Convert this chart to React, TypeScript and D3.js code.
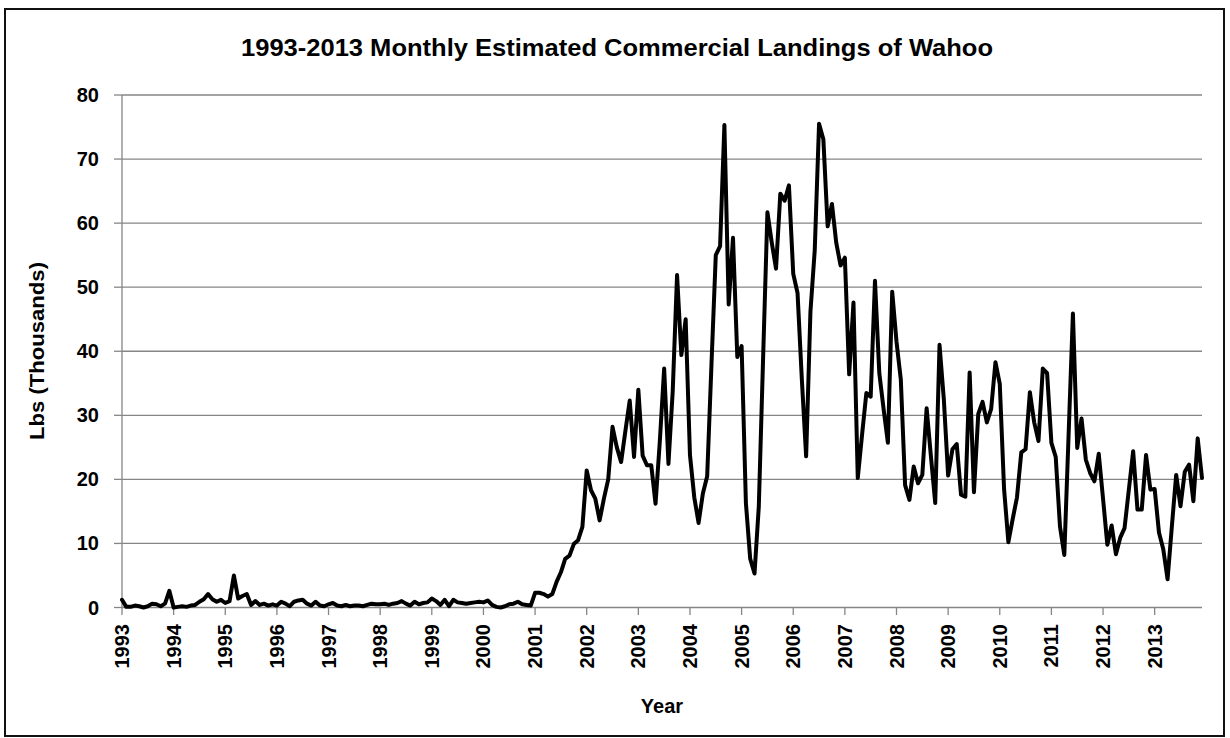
import React from 'react';
import * as d3 from 'd3';

const years = ['1993','1994','1995','1996','1997','1998','1999','2000','2001','2002','2003','2004','2005','2006','2007','2008','2009','2010','2011','2012','2013'];
const yTicks = [0, 10, 20, 30, 40, 50, 60, 70, 80];

const v1993 = [1.2, 0.1, 0.1, 0.3, 0.2, 0.0, 0.2, 0.6, 0.5, 0.2, 0.6, 2.6];
const v1994 = [0.0, 0.1, 0.2, 0.1, 0.3, 0.4, 0.9, 1.3, 2.1, 1.3, 0.9, 1.2];
const v1995 = [0.7, 1.0, 5.0, 1.4, 1.8, 2.1, 0.4, 1.0, 0.4, 0.6, 0.3, 0.5];
const v1996 = [0.3, 0.9, 0.6, 0.2, 0.9, 1.1, 1.2, 0.6, 0.3, 0.9, 0.3, 0.2];
const v1997 = [0.5, 0.7, 0.3, 0.2, 0.4, 0.2, 0.3, 0.3, 0.2, 0.4, 0.6, 0.5];
const v1998 = [0.5, 0.6, 0.4, 0.6, 0.7, 1.0, 0.6, 0.3, 0.9, 0.5, 0.7, 0.8];
const v1999 = [1.4, 1.0, 0.4, 1.2, 0.2, 1.2, 0.8, 0.7, 0.6, 0.7, 0.8, 0.9];
const v2000 = [0.8, 1.1, 0.4, 0.1, 0.0, 0.2, 0.5, 0.6, 0.9, 0.5, 0.4, 0.3];
const v2001 = [2.3, 2.3, 2.1, 1.7, 2.1, 4.0, 5.5, 7.6, 8.1, 9.9, 10.5, 12.6];
const v2002 = [21.4, 18.3, 17.0, 13.6, 17.0, 20.0, 28.2, 25.0, 22.7, 27.6, 32.3, 23.5];
const v2003 = [34.0, 23.7, 22.2, 22.2, 16.2, 26.0, 37.3, 22.4, 33.9, 51.9, 39.4, 45.0];
const v2004 = [23.8, 17.2, 13.2, 17.8, 20.5, 38.0, 55.0, 56.4, 75.3, 47.3, 57.7, 39.1];
const v2005 = [40.8, 16.3, 7.6, 5.3, 15.8, 39.0, 61.7, 57.0, 52.9, 64.6, 63.5, 65.9];
const v2006 = [52.1, 49.1, 35.6, 23.6, 46.2, 55.8, 75.5, 73.1, 59.5, 63.0, 56.9, 53.4];
const v2007 = [54.6, 36.4, 47.6, 20.2, 27.0, 33.5, 32.9, 51.0, 36.6, 31.0, 25.7, 49.3];
const v2008 = [41.5, 35.6, 19.1, 16.8, 22.0, 19.4, 20.7, 31.1, 23.6, 16.3, 41.0, 32.5];
const v2009 = [20.6, 24.7, 25.5, 17.6, 17.3, 36.7, 18.0, 30.2, 32.1, 28.9, 31.0, 38.3];
const v2010 = [34.9, 18.5, 10.2, 13.8, 17.2, 24.2, 24.7, 33.6, 28.9, 26.0, 37.3, 36.6];
const v2011 = [25.7, 23.5, 12.6, 8.2, 27.0, 45.9, 24.9, 29.5, 23.1, 21.0, 19.7, 24.0];
const v2012 = [17.0, 9.8, 12.8, 8.3, 10.9, 12.4, 18.4, 24.4, 15.3, 15.3, 23.8, 18.4];
const v2013 = [18.5, 11.7, 9.1, 4.4, 12.7, 20.7, 15.8, 21.2, 22.3, 16.6, 26.4, 20.2];

const series = [v1993, v1994, v1995, v1996, v1997, v1998, v1999, v2000, v2001, v2002, v2003,
  v2004, v2005, v2006, v2007, v2008, v2009, v2010, v2011, v2012, v2013].flat();

const W = 1230;
const H = 738;
const FONT = "'Liberation Sans', Arial, sans-serif";
const GRID = '#868686';

export default function App() {
  const x = d3.scaleLinear().domain([0, series.length - 1]).range([122, 1202]);
  const y = d3.scaleLinear().domain([0, 80]).range([607.5, 95]);
  const line = d3.line<number>().x((_, i) => x(i)).y((d) => y(d)).curve(d3.curveLinear);
  const x0 = x(0);
  const x1 = x(series.length - 1);

  return (
    <svg width={W} height={H} style={{ position: 'absolute', left: 0, top: 0, background: '#fff' }}>
      <rect x={0} y={0} width={W} height={H} fill="#fff" />
      <rect x={5} y={9} width={1219} height={727} fill="#fff" stroke="#111" strokeWidth={2} />
      <text x={617} y={56} textAnchor="middle" fontFamily={FONT} fontWeight="bold" fontSize={24}
        textLength={752} lengthAdjust="spacingAndGlyphs" fill="#000">
        1993-2013 Monthly Estimated Commercial Landings of Wahoo
      </text>
      {yTicks.map((t) => (
        <g key={'y' + t}>
          {t > 0 && <line x1={x0} x2={x1} y1={y(t)} y2={y(t)} stroke={GRID} strokeWidth={1.3} />}
          <line x1={114} x2={x0} y1={y(t)} y2={y(t)} stroke={GRID} strokeWidth={1.3} />
          <text x={99} y={y(t)} dy="0.35em" textAnchor="end" fontFamily={FONT} fontWeight="bold"
            fontSize={20} fill="#000">{t}</text>
        </g>
      ))}
      <line x1={x0} x2={x0} y1={y(80)} y2={y(0)} stroke={GRID} strokeWidth={1.3} />
      <line x1={x0} x2={x1} y1={y(0)} y2={y(0)} stroke={GRID} strokeWidth={1.3} />
      {years.map((yr, k) => {
        const xx = x(k * 12);
        return (
          <g key={yr}>
            <line x1={xx} x2={xx} y1={y(0)} y2={615} stroke={GRID} strokeWidth={1.3} />
            <text transform={`translate(${xx},624) rotate(-90)`} dy="0.35em" textAnchor="end"
              fontFamily={FONT} fontWeight="bold" fontSize={20} fill="#000">{yr}</text>
          </g>
        );
      })}
      <path d={line(series) || ''} fill="none" stroke="#000" strokeWidth={4} strokeLinejoin="round" strokeLinecap="round" />
      <text x={662} y={713} textAnchor="middle" fontFamily={FONT} fontWeight="bold" fontSize={20} fill="#000">Year</text>
      <text transform="translate(44,351) rotate(-90)" textAnchor="middle" fontFamily={FONT} fontWeight="bold"
        fontSize={20} textLength={178} lengthAdjust="spacingAndGlyphs" fill="#000">Lbs (Thousands)</text>
    </svg>
  );
}
